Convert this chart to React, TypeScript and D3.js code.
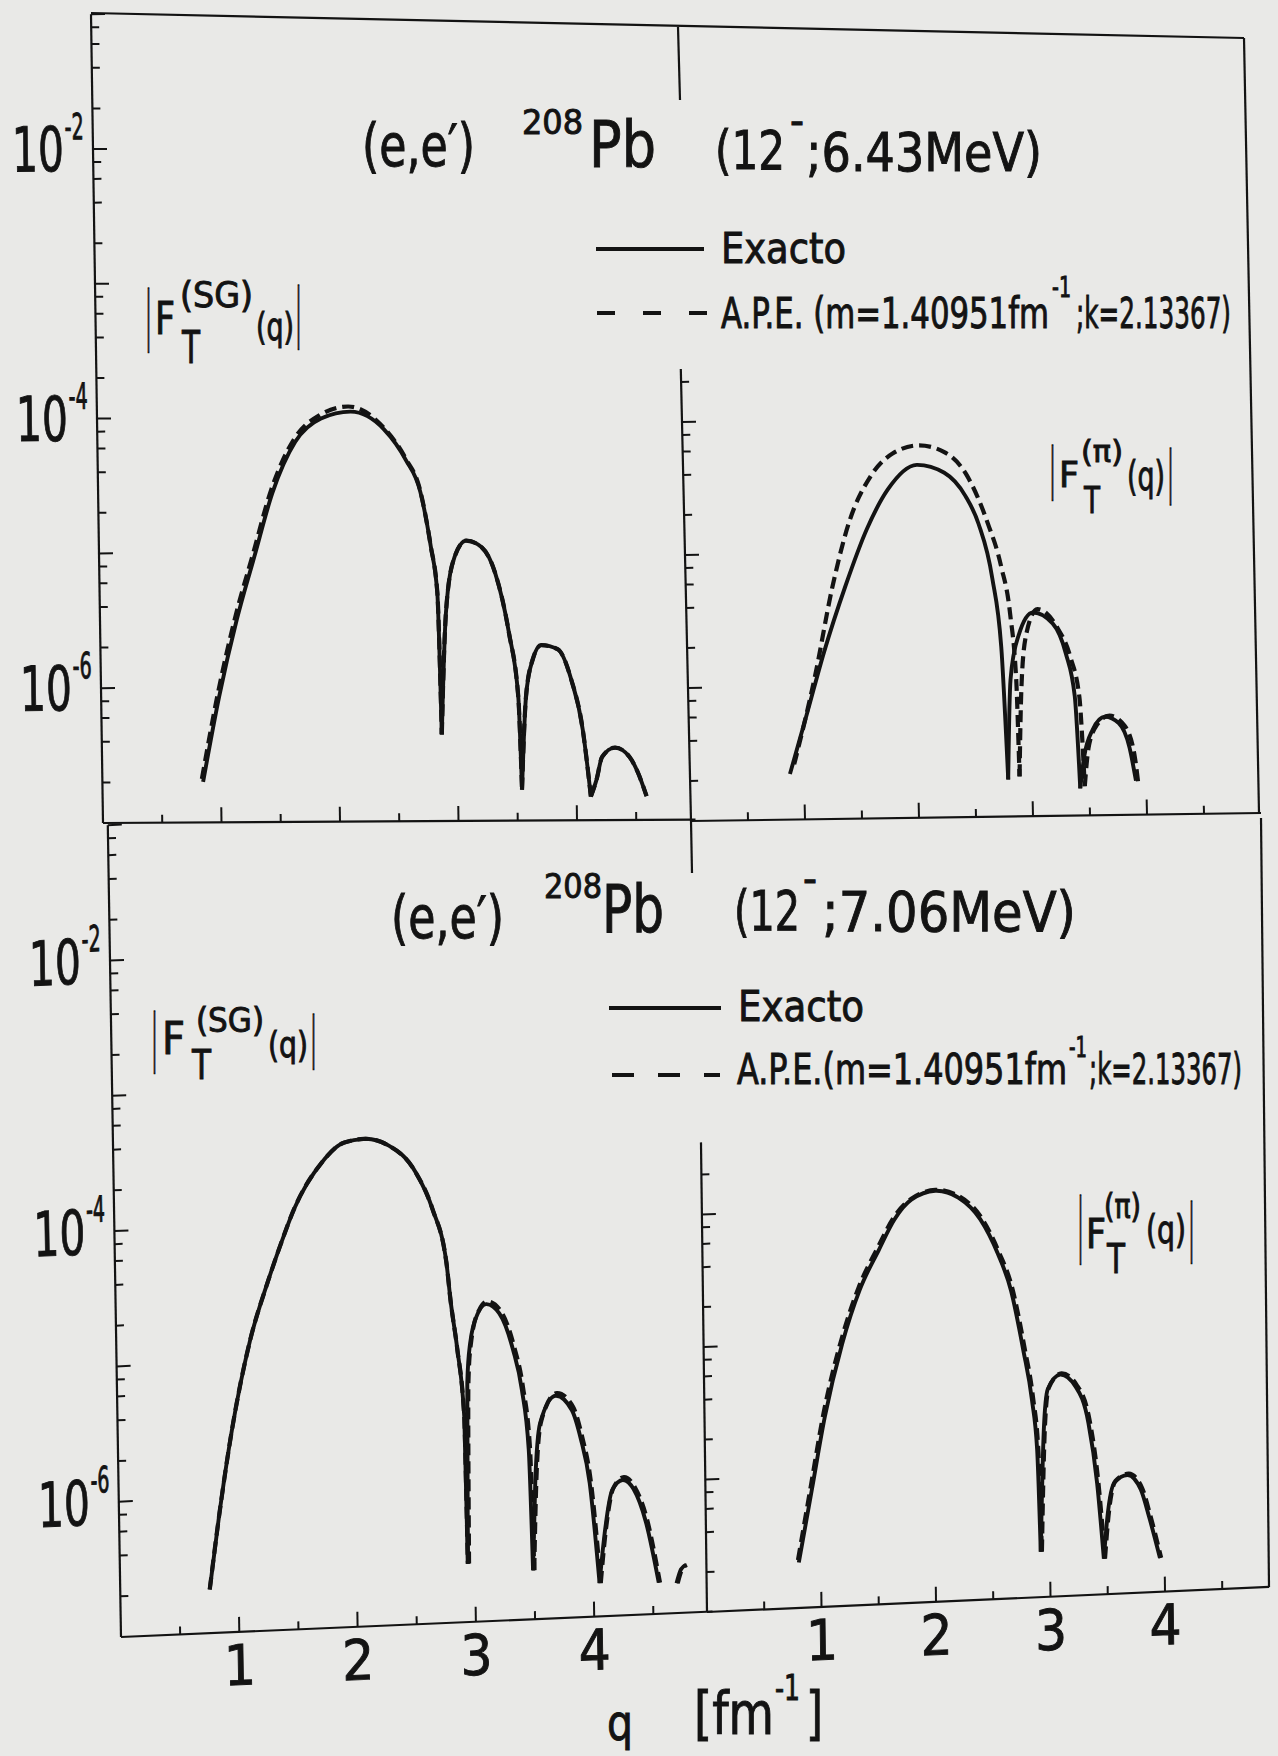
import React from "react";
import * as d3 from "d3";

type Pt = [number, number];

// ---------- axis values ----------
const qTickValues = [0.5, 1, 1.5, 2, 2.5, 3, 3.5, 4, 4.5];
const qTickLabels = [1, 2, 3, 4];
const decadeExponents = [-7, -6, -5, -4, -3, -2];
const minorMultipliers = [2, 4, 6, 8];
const labelledExponents = [-2, -4, -6];

// ---------- data: |F_T(q)|, one array per lobe ----------
// upper figure, 12- ; 6.43 MeV, SG part
const sg643Exacto: Pt[][] = [
  [[0.85, 2.0e-7], [0.995, 8.5e-7], [1.155, 3.2e-6], [1.31, 9.3e-6], [1.47, 2.75e-5], [1.67, 6.6e-5], [1.89, 9.8e-5], [2.14, 1.1e-4], [2.42, 8.1e-5], [2.6, 4.8e-5], [2.72, 2.75e-5], [2.8, 1.1e-5], [2.85, 4.9e-6], [2.87, 4.4e-7]],
  [[2.87, 4.4e-7], [2.92, 3.5e-6], [3.0, 9.1e-6], [3.1, 1.2e-5], [3.23, 1.07e-5], [3.34, 6.9e-6], [3.45, 2.45e-6], [3.52, 8.3e-7], [3.54, 1.7e-7]],
  [[3.54, 1.7e-7], [3.585, 8.3e-7], [3.65, 1.6e-6], [3.72, 2.0e-6], [3.86, 1.86e-6], [3.97, 1.1e-6], [4.06, 4.7e-7], [4.12, 1.5e-7]],
  [[4.12, 1.5e-7], [4.17, 2.0e-7], [4.22, 2.95e-7], [4.33, 3.45e-7], [4.45, 2.95e-7], [4.52, 2.25e-7], [4.59, 1.5e-7]],
];
const sg643APE: Pt[][] = [
  [[0.84, 2.1e-7], [0.985, 9.0e-7], [1.145, 3.4e-6], [1.3, 9.8e-6], [1.46, 2.9e-5], [1.66, 6.9e-5], [1.88, 1.04e-4], [2.12, 1.2e-4], [2.42, 8.3e-5], [2.6, 4.9e-5], [2.72, 2.8e-5], [2.8, 1.1e-5], [2.85, 5.0e-6], [2.87, 4.4e-7]],
  [[2.87, 4.4e-7], [2.92, 3.5e-6], [3.0, 9.1e-6], [3.1, 1.2e-5], [3.23, 1.07e-5], [3.34, 6.9e-6], [3.45, 2.45e-6], [3.52, 8.3e-7], [3.54, 1.7e-7]],
  [[3.54, 1.7e-7], [3.585, 8.3e-7], [3.65, 1.6e-6], [3.72, 2.0e-6], [3.86, 1.86e-6], [3.97, 1.1e-6], [4.06, 4.7e-7], [4.12, 1.5e-7]],
  [[4.12, 1.5e-7], [4.17, 2.0e-7], [4.22, 2.95e-7], [4.33, 3.45e-7], [4.45, 2.95e-7], [4.52, 2.25e-7], [4.59, 1.5e-7]],
];
// upper figure, pi part
const pi643Exacto: Pt[][] = [
  [[0.877, 2.2e-7], [1.04, 6.3e-7], [1.2, 1.8e-6], [1.4, 5.6e-6], [1.6, 1.5e-5], [1.79, 2.95e-5], [2.05, 4.5e-5], [2.29, 3.9e-5], [2.47, 2.6e-5], [2.58, 1.6e-5], [2.69, 6.2e-6], [2.755, 1.9e-6], [2.79, 1.9e-7]],
  [[2.79, 1.9e-7], [2.83, 1.07e-6], [2.91, 2.3e-6], [3.04, 3.4e-6], [3.21, 2.8e-6], [3.32, 1.66e-6], [3.39, 7.9e-7], [3.42, 1.6e-7]],
  [[3.42, 1.6e-7], [3.46, 2.75e-7], [3.54, 4.4e-7], [3.65, 5.5e-7], [3.77, 4.9e-7], [3.86, 3.2e-7], [3.91, 1.8e-7]],
];
const pi643APE: Pt[][] = [
  [[0.916, 2.6e-7], [1.12, 1.23e-6], [1.285, 5.5e-6], [1.45, 1.74e-5], [1.64, 3.7e-5], [1.84, 5.5e-5], [2.07, 6.3e-5], [2.29, 5.6e-5], [2.48, 3.8e-5], [2.66, 1.62e-5], [2.77, 7.6e-6], [2.84, 3.3e-6], [2.88, 1.07e-6], [2.89, 2.0e-7]],
  [[2.89, 2.0e-7], [2.92, 8.1e-7], [2.98, 2.4e-6], [3.08, 3.6e-6], [3.25, 2.6e-6], [3.36, 1.55e-6], [3.43, 7.8e-7], [3.46, 1.66e-7]],
  [[3.46, 1.66e-7], [3.5, 3.2e-7], [3.58, 4.8e-7], [3.69, 5.6e-7], [3.82, 4.7e-7], [3.9, 2.9e-7], [3.93, 1.7e-7]],
];
// lower figure, 12- ; 7.06 MeV, SG part
const sg706Exacto: Pt[][] = [
  [[0.756, 2.1e-7], [0.84, 6.8e-7], [0.965, 3.1e-6], [1.13, 1.4e-5], [1.29, 3.8e-5], [1.39, 6.6e-5], [1.525, 1.3e-4], [1.76, 2.75e-4], [1.95, 3.8e-4], [2.12, 4.0e-4], [2.33, 3.5e-4], [2.55, 2.2e-4], [2.69, 1.15e-4], [2.8, 4.6e-5], [2.83, 2.4e-5], [2.88, 1.05e-5], [2.93, 3.3e-6], [2.94, 2.7e-7]],
  [[2.94, 2.7e-7], [2.96, 5.8e-6], [2.99, 1.15e-5], [3.06, 1.9e-5], [3.13, 2.2e-5], [3.24, 1.86e-5], [3.35, 1.0e-5], [3.42, 5.0e-6], [3.47, 1.8e-6], [3.49, 2.3e-7]],
  [[3.49, 2.3e-7], [3.52, 1.0e-6], [3.57, 2.8e-6], [3.705, 4.4e-6], [3.84, 3.4e-6], [3.91, 2.1e-6], [3.98, 9.8e-7], [4.05, 1.76e-7]],
  [[4.05, 1.76e-7], [4.1, 4.1e-7], [4.17, 8.5e-7], [4.26, 1.0e-6], [4.35, 8.5e-7], [4.45, 4.8e-7], [4.55, 1.7e-7]],
  [[4.7, 1.66e-7], [4.74, 2.1e-7], [4.78, 2.25e-7]],
];
const sg706APE: Pt[][] = [
  [[0.756, 2.1e-7], [0.84, 6.8e-7], [0.965, 3.1e-6], [1.13, 1.4e-5], [1.29, 3.8e-5], [1.39, 6.6e-5], [1.525, 1.3e-4], [1.76, 2.75e-4], [1.95, 3.8e-4], [2.12, 4.0e-4], [2.33, 3.5e-4], [2.55, 2.2e-4], [2.69, 1.15e-4], [2.8, 4.6e-5], [2.83, 2.4e-5], [2.88, 1.05e-5], [2.93, 3.3e-6], [2.94, 2.7e-7]],
  [[2.95, 2.7e-7], [2.97, 6.0e-6], [3.0, 1.2e-5], [3.07, 2.0e-5], [3.14, 2.3e-5], [3.25, 1.95e-5], [3.36, 1.05e-5], [3.43, 5.2e-6], [3.48, 1.9e-6], [3.5, 2.3e-7]],
  [[3.5, 2.3e-7], [3.53, 1.05e-6], [3.58, 2.9e-6], [3.715, 4.6e-6], [3.85, 3.6e-6], [3.92, 2.2e-6], [3.99, 1.0e-6], [4.06, 1.76e-7]],
  [[4.06, 1.76e-7], [4.11, 4.3e-7], [4.18, 8.8e-7], [4.27, 1.05e-6], [4.36, 8.8e-7], [4.46, 5.0e-7], [4.56, 1.7e-7]],
  [[4.71, 1.66e-7], [4.75, 2.1e-7], [4.79, 2.25e-7]],
];
// lower figure, pi part
const pi706Exacto: Pt[][] = [
  [[0.807, 2.2e-7], [0.93, 7.8e-7], [1.05, 2.7e-6], [1.21, 9.5e-6], [1.37, 2.4e-5], [1.54, 4.7e-5], [1.68, 7.9e-5], [1.83, 1.1e-4], [2.04, 1.26e-4], [2.24, 1.1e-4], [2.43, 7.4e-5], [2.58, 4.0e-5], [2.69, 2.1e-5], [2.79, 7.4e-6], [2.86, 3.1e-6], [2.9, 1.3e-6], [2.92, 2.2e-7]],
  [[2.92, 2.2e-7], [2.96, 1.8e-6], [3.0, 3.7e-6], [3.11, 4.7e-6], [3.24, 3.8e-6], [3.35, 2.0e-6], [3.42, 6.9e-7], [3.47, 1.86e-7]],
  [[3.47, 1.86e-7], [3.51, 4.1e-7], [3.57, 6.9e-7], [3.685, 7.8e-7], [3.8, 6.0e-7], [3.87, 3.7e-7], [3.96, 1.8e-7]],
];
const pi706APE: Pt[][] = [
  [[0.8, 2.3e-7], [0.92, 8.2e-7], [1.04, 2.9e-6], [1.2, 1.0e-5], [1.36, 2.5e-5], [1.53, 4.9e-5], [1.67, 8.1e-5], [1.83, 1.12e-4], [2.04, 1.28e-4], [2.25, 1.12e-4], [2.44, 7.6e-5], [2.59, 4.1e-5], [2.7, 2.2e-5], [2.8, 7.8e-6], [2.87, 3.2e-6], [2.91, 1.3e-6], [2.93, 2.2e-7]],
  [[2.93, 2.2e-7], [2.97, 1.9e-6], [3.01, 3.8e-6], [3.12, 4.8e-6], [3.25, 3.9e-6], [3.36, 2.1e-6], [3.43, 7.1e-7], [3.48, 1.86e-7]],
  [[3.48, 1.86e-7], [3.52, 4.2e-7], [3.58, 7.1e-7], [3.695, 8.0e-7], [3.81, 6.2e-7], [3.88, 3.8e-7], [3.97, 1.8e-7]],
];

// ---------- text ----------
const legendExact = "Exacto";
const legendApeHead = "A.P.E. (m=1.40951fm";
const legendApeHeadLower = "A.P.E.(m=1.40951fm";
const legendApeTail = ";k=2.13367)";
const stateUpper = ";6.43MeV)";
const stateLower = ";7.06MeV)";

// ---------- styling / layout ----------
const FONT = "'Liberation Sans Narrow', 'DejaVu Sans Condensed', 'DejaVu Sans', sans-serif";
const INK = "#131313";
const PAPER = "#e9e9e7";
const TXT_STROKE = 0.9;
const W = 1278;
const H = 1756;

interface Geom { ox: number; oy: number; ux: number; uy: number; b: number; c: number; }
// each panel: origin at (q=0, 1e-7); ux px per unit q, uy px per decade; b,c small tilt of the scan
const TL: Geom = { ox: 103, oy: 823, ux: 118.5, uy: 134.8, b: -0.67 / 118.5, c: 2 / 134.8 };
const TR: Geom = { ox: 691, oy: 821, ux: 114, uy: 133, b: -1.6 / 114, c: 3 / 133 };
const BL: Geom = { ox: 121, oy: 1637, ux: 118.3, uy: 135.3, b: -5.1 / 118.3, c: 2.2 / 135.3 };
const BR: Geom = { ox: 707, oy: 1612, ux: 114.5, uy: 132.5, b: -5.1 / 114.5, c: 1.7 / 132.5 };

interface PanelProps {
  g: Geom;
  exact: Pt[][];
  ape: Pt[][];
  axisTop: number;
  qAxisEnd: number;
  yLabels: boolean;
  xLabels: boolean;
}

function Panel({ g, exact, ape, axisTop, qAxisEnd, yLabels, xLabels }: PanelProps) {
  const x = d3.scaleLinear().domain([0, 5]).range([0, 5 * g.ux]);
  const y = d3.scaleLog().domain([1e-7, 1e-1]).range([0, -6 * g.uy]);
  const line = d3
    .line<Pt>()
    .x((d) => x(d[0]))
    .y((d) => y(d[1]))
    .curve(d3.curveMonotoneX);

  const yTicks: { v: number; major: boolean }[] = [];
  decadeExponents.forEach((e) => {
    yTicks.push({ v: Math.pow(10, e), major: true });
    minorMultipliers.forEach((m) => yTicks.push({ v: m * Math.pow(10, e), major: false }));
  });
  yTicks.push({ v: 1e-1, major: true });
  const ticks = yTicks.filter((t) => t.v > 1.01e-7 && t.v <= axisTop * 1.0001);

  return (
    <g transform={`matrix(1,${g.b},${g.c},1,${g.ox},${g.oy})`}>
      <line x1={0} y1={y(1e-7)} x2={0} y2={y(axisTop)} stroke={INK} strokeWidth={2.2} />
      <line x1={0} y1={0} x2={x(qAxisEnd)} y2={0} stroke={INK} strokeWidth={2.2} />
      {ticks.map((t, i) => (
        <line key={"yt" + i} x1={0} x2={t.major ? 14 : 8} y1={y(t.v)} y2={y(t.v)} stroke={INK} strokeWidth={2} />
      ))}
      {qTickValues.map((q, i) => (
        <line key={"xt" + i} x1={x(q)} x2={x(q)} y1={0} y2={Number.isInteger(q) ? -15 : -8} stroke={INK} strokeWidth={2} />
      ))}
      {yLabels &&
        labelledExponents.map((e) => (
          <g key={"yl" + e} fontFamily={FONT} fill={INK} stroke={INK} strokeWidth={TXT_STROKE}>
            <text x={-29} y={y(Math.pow(10, e)) + 22} fontSize={62} textAnchor="end" textLength={52} lengthAdjust="spacingAndGlyphs">10</text>
            <text x={-28} y={y(Math.pow(10, e)) - 10} fontSize={36} textLength={19} lengthAdjust="spacingAndGlyphs">{"-" + Math.abs(e)}</text>
          </g>
        ))}
      {xLabels &&
        qTickLabels.map((q) => (
          <text key={"xl" + q} x={x(q)} y={53} fontSize={56} fontFamily={FONT} fill={INK} stroke={INK} strokeWidth={TXT_STROKE} textAnchor="middle">{q}</text>
        ))}
      {ape.map((lobe, i) => (
        <path key={"a" + i} d={line(lobe) || ""} fill="none" stroke={INK} strokeWidth={4.2} strokeDasharray="12 6" />
      ))}
      {exact.map((lobe, i) => (
        <path key={"e" + i} d={line(lobe) || ""} fill="none" stroke={INK} strokeWidth={3.9} strokeLinejoin="round" />
      ))}
    </g>
  );
}

interface FLabelProps {
  x: number;
  bar1: [number, number];
  fx: number; fy: number; fs: number; fw: number;
  sx: number; sy: number; ss: number; sw: number; sup: string;
  tx: number; ty: number; ts: number; tw: number;
  qx: number; qy: number; qs: number; qw: number;
  x2: number; bar2: [number, number];
}

function Bar({ x, top, bottom }: { x: number; top: number; bottom: number }) {
  const fs = (bottom - top) / 0.94;
  return (
    <text x={x} y={top + 0.73 * fs} fontSize={fs} fontFamily={FONT} fill={INK} stroke={INK} strokeWidth={1.6} textLength={5} lengthAdjust="spacingAndGlyphs">|</text>
  );
}

function FLabel(p: FLabelProps) {
  return (
    <g fontFamily={FONT} fill={INK}>
      <Bar x={p.x} top={p.bar1[0]} bottom={p.bar1[1]} />
      <g stroke={INK} strokeWidth={TXT_STROKE}>
        <text x={p.fx} y={p.fy} fontSize={p.fs} textLength={p.fw} lengthAdjust="spacingAndGlyphs">F</text>
        <text x={p.sx} y={p.sy} fontSize={p.ss} textLength={p.sw} lengthAdjust="spacingAndGlyphs">{p.sup}</text>
        <text x={p.tx} y={p.ty} fontSize={p.ts} textLength={p.tw} lengthAdjust="spacingAndGlyphs">T</text>
        <text x={p.qx} y={p.qy} fontSize={p.qs} textLength={p.qw} lengthAdjust="spacingAndGlyphs">(q)</text>
      </g>
      <Bar x={p.x2} top={p.bar2[0]} bottom={p.bar2[1]} />
    </g>
  );
}

function T({ x, y, s, w, children }: { x: number; y: number; s: number; w?: number; children: React.ReactNode }) {
  return (
    <text x={x} y={y} fontSize={s} fontFamily={FONT} fill={INK} stroke={INK} strokeWidth={TXT_STROKE}
      textLength={w} lengthAdjust={w ? "spacingAndGlyphs" : undefined}>
      {children}
    </text>
  );
}

export default function App() {
  return (
    <svg width={W} height={H} viewBox={`0 0 ${W} ${H}`} style={{ position: "absolute", left: 0, top: 0, background: PAPER }}>
      <rect x={0} y={0} width={W} height={H} fill={PAPER} />

      {/* ---------- upper figure frame ---------- */}
      <line x1={91} y1={13} x2={1244} y2={38} stroke={INK} strokeWidth={2.2} />
      <line x1={1244} y1={38} x2={1259} y2={813} stroke={INK} strokeWidth={2.2} />
      <line x1={678} y1={27} x2={680} y2={100} stroke={INK} strokeWidth={2.2} />
      {/* ---------- lower figure frame ---------- */}
      <line x1={1261} y1={818} x2={1269} y2={1587} stroke={INK} strokeWidth={2.2} />
      <line x1={691} y1={821} x2={692} y2={873} stroke={INK} strokeWidth={2.2} />

      <Panel g={TL} exact={sg643Exacto} ape={sg643APE} axisTop={1e-1} qAxisEnd={5} yLabels xLabels={false} />
      <Panel g={TR} exact={pi643Exacto} ape={pi643APE} axisTop={2.5e-4} qAxisEnd={5} yLabels={false} xLabels={false} />
      <Panel g={BL} exact={sg706Exacto} ape={sg706APE} axisTop={1e-1} qAxisEnd={5} yLabels xLabels />
      <Panel g={BR} exact={pi706Exacto} ape={pi706APE} axisTop={3.5e-4} qAxisEnd={4.91} yLabels={false} xLabels />

      {/* ---------- upper titles ---------- */}
      <T x={362} y={166} s={58} w={113}>(e,e′)</T>
      <T x={522} y={134} s={33} w={61}>208</T>
      <T x={589} y={167} s={64} w={67}>Pb</T>
      <T x={715} y={169} s={54} w={70}>(12</T>
      <T x={790} y={135} s={40} w={14}>-</T>
      <T x={806} y={171} s={54} w={236}>{stateUpper}</T>

      <line x1={596} y1={249} x2={704} y2={249} stroke={INK} strokeWidth={3.8} />
      <T x={721} y={263} s={42} w={125}>{legendExact}</T>
      <line x1={597} y1={313} x2={708} y2={313} stroke={INK} strokeWidth={3.8} strokeDasharray="18 28" />
      <T x={721} y={328} s={42} w={328}>{legendApeHead}</T>
      <T x={1052} y={297} s={28} w={19}>-1</T>
      <T x={1076} y={328} s={42} w={155}>{legendApeTail}</T>

      <FLabel x={146} bar1={[290, 350]} fx={155} fy={334} fs={44} fw={20} sx={180} sy={307} ss={35} sw={73} sup="(SG)"
        tx={182} ty={363} ts={44} tw={18} qx={256} qy={340} qs={37} qw={38} x2={296} bar2={[287, 347]} />
      <FLabel x={1050} bar1={[447, 499]} fx={1059} fy={487} fs={36} fw={20} sx={1081} sy={462} ss={31} sw={42} sup="(π)"
        tx={1084} ty={513} ts={38} tw={16} qx={1127} qy={490} qs={40} qw={38} x2={1168} bar2={[450, 503]} />

      {/* ---------- lower titles ---------- */}
      <T x={391} y={938} s={58} w={113}>(e,e′)</T>
      <T x={544} y={898} s={33} w={58}>208</T>
      <T x={602} y={932} s={66} w={62}>Pb</T>
      <T x={734} y={930} s={56} w={66}>(12</T>
      <T x={803} y={893} s={40} w={14}>-</T>
      <T x={822} y={931} s={56} w={254}>{stateLower}</T>

      <line x1={609} y1={1008} x2={721} y2={1008} stroke={INK} strokeWidth={3.8} />
      <T x={738} y={1021} s={42} w={126}>{legendExact}</T>
      <line x1={612} y1={1075} x2={720} y2={1075} stroke={INK} strokeWidth={3.8} strokeDasharray="22 24" />
      <T x={737} y={1084} s={42} w={330}>{legendApeHeadLower}</T>
      <T x={1069} y={1057} s={28} w={18}>-1</T>
      <T x={1089} y={1084} s={42} w={153}>{legendApeTail}</T>

      <FLabel x={152} bar1={[1012, 1071]} fx={162} fy={1054} fs={44} fw={23} sx={196} sy={1032} ss={34} sw={68} sup="(SG)"
        tx={192} ty={1079} ts={41} tw={19} qx={268} qy={1057} qs={36} qw={40} x2={311} bar2={[1016, 1068]} />
      <FLabel x={1078} bar1={[1198, 1263]} fx={1086} fy={1248} fs={40} fw={20} sx={1104} sy={1218} ss={33} sw={37} sup="(π)"
        tx={1107} ty={1273} ts={40} tw={18} qx={1146} qy={1243} qs={39} qw={40} x2={1189} bar2={[1203, 1261]} />

      {/* ---------- x-axis title ---------- */}
      <T x={607} y={1740} s={50} w={26}>q</T>
      <T x={694} y={1734} s={58} w={80}>[fm</T>
      <T x={775} y={1700} s={36} w={25}>-1</T>
      <T x={806} y={1734} s={58} w={17}>]</T>
    </svg>
  );
}
